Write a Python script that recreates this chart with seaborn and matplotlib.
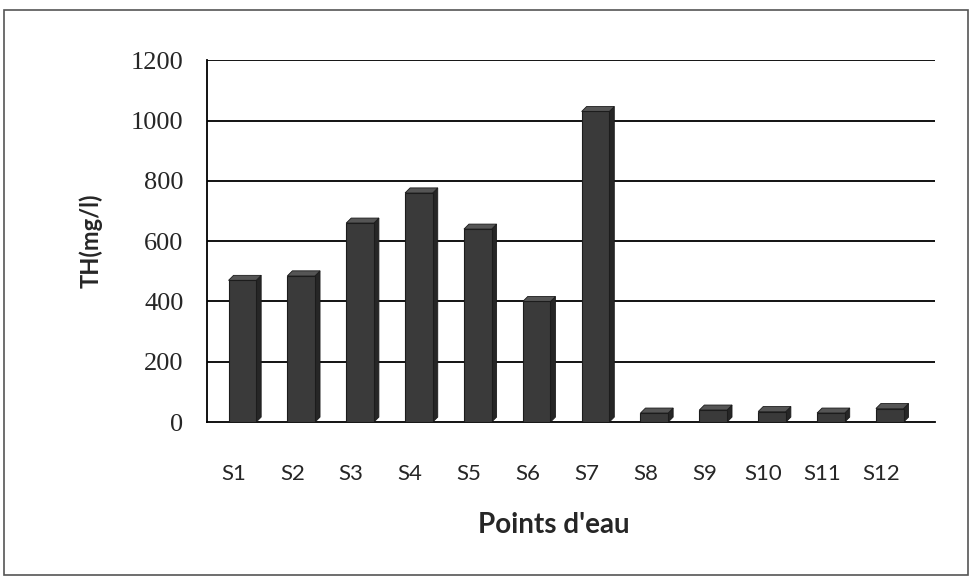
import matplotlib
matplotlib.use("Agg")
import matplotlib.pyplot as plt
import seaborn as sns
import pandas as pd
import numpy as np
from matplotlib.patches import Rectangle, Polygon

# Total hardness per water point
points = ["S1", "S2", "S3", "S4", "S5", "S6", "S7", "S8", "S9", "S10", "S11", "S12"]
th_values = [470, 485, 660, 760, 640, 400, 1030, 30, 40, 35, 30, 45]
y_ticks = [0, 200, 400, 600, 800, 1000, 1200]

df = pd.DataFrame({"point": points, "th": th_values})

sns.set_theme(style="white")
plt.rcParams["font.family"] = ["Lato", "DejaVu Sans"]

fig = plt.figure(figsize=(9.72, 5.79), dpi=100)
ax = fig.add_axes([0.213, 0.271, 0.749, 0.625])

sns.barplot(data=df, x="point", y="th", color="#3a3a3a", width=0.47,
            edgecolor="#1c1c1c", linewidth=0.8, saturation=1, ax=ax, zorder=3)

ax.set_ylim(0, 1200)
ax.set_xlim(-0.6, 11.77)
ax.set_yticks(y_ticks)
ax.set_yticklabels([str(v) for v in y_ticks], family=["Liberation Serif"], fontsize=19)
ax.tick_params(axis="y", length=6, width=1, color="black", direction="out", pad=11)

# category labels sit slightly left of the column centres
ax.set_xticks(np.arange(len(points)) - 0.15)
ax.set_xticklabels(points)
ax.tick_params(axis="x", length=0, pad=30, labelsize=16)

for v in y_ticks[1:]:
    ax.axhline(v, color="black", lw=1.3, zorder=1)

for side in ["top", "right"]:
    ax.spines[side].set_visible(False)
for side in ["left", "bottom"]:
    ax.spines[side].set_color("black")
    ax.spines[side].set_linewidth(1.3)

# shallow depth faces on each column (side and top), derived from the bar geometry
fig.canvas.draw()
to_data = ax.transData.inverted()
depth = 5  # pixels
for p in list(ax.patches):
    x0, y0 = p.get_x(), p.get_y()
    x1, y1 = x0 + p.get_width(), y0 + p.get_height()
    (px0, py0), (px1, py1) = ax.transData.transform([(x0, y0), (x1, y1)])
    side = to_data.transform([(px1, py0), (px1 + depth, py0 + depth),
                              (px1 + depth, py1 + depth), (px1, py1)])
    top = to_data.transform([(px0, py1), (px0 + depth, py1 + depth),
                             (px1 + depth, py1 + depth), (px1, py1)])
    ax.add_patch(Polygon(side, closed=True, facecolor="#262626",
                         edgecolor="#1c1c1c", lw=0.6, zorder=2.9))
    ax.add_patch(Polygon(top, closed=True, facecolor="#555555",
                         edgecolor="#1c1c1c", lw=0.6, zorder=2.9))

ax.set_xlabel("Points d'eau", fontsize=20, fontweight="bold", labelpad=20)
ax.xaxis.label.set_x(0.477)
ax.set_ylabel("TH(mg/l)", fontsize=17, fontweight="bold", labelpad=20)

# Thin frame around the whole chart area
fig.patches.append(Rectangle((0.004, 0.007), 0.992, 0.975, transform=fig.transFigure,
                             fill=False, edgecolor="#555555", lw=1.2))

fig.savefig("out.png", dpi=100)
